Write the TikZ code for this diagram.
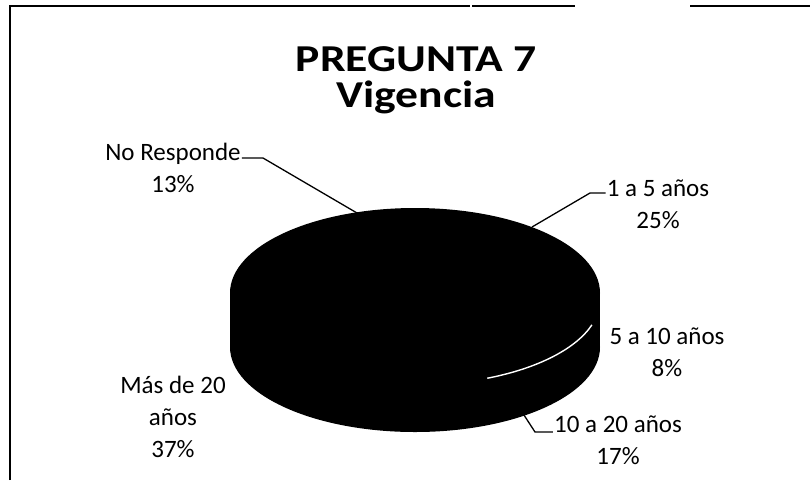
\documentclass[tikz,border=0pt]{standalone}
\usepackage{fontspec}
\usepackage{graphicx}
\setmainfont{Carlito}
\usetikzlibrary{positioning, calc}

\tikzset{
  etiqueta/.style={align=center, inner sep=1pt, font=\fontsize{25}{32}\selectfont},
  titulo/.style={anchor=base, inner sep=0pt, font=\bfseries\fontsize{38}{38}\selectfont},
  guia/.style={draw=black, line width=1.3pt},
  marco/.style={draw=black, line width=1.2pt}
}
\newcommand{\ancho}[1]{\scalebox{1.2}[1]{#1}}

\begin{document}
\begin{tikzpicture}[x=1pt, y=-1pt]
    \useasboundingbox (0,0) rectangle (810,480);

    % marco escaneado
    \draw[marco] (10,480) -- (10,6) -- (470,6);
    \draw[marco] (472,6) -- (575,6);
    \draw[marco] (690,6) -- (810,6);

    % titulo
    \node[titulo] (tit) at (416,71) {\ancho{PREGUNTA 7}};
    \node[titulo] (vig) at (416,107) {\ancho{Vigencia}};

    % torta 3D (todo negro)
    \fill[black] (230,293) rectangle (600,347);
    \fill[black] (415,347) ellipse [x radius=185, y radius=85];
    \fill[black] (415,293) ellipse [x radius=185, y radius=85];
    % borde blanco del sector
    \draw[white, line width=1.4pt] (415,300) ++(17:185 and 85) arc [start angle=17, end angle=67, x radius=185, y radius=85];

    % puntos de la torta
    \coordinate (pNR) at (357,213);
    \coordinate (kNR) at (263,158);
    \coordinate (pUno) at (532,227);
    \coordinate (kUno) at (590,193);
    \coordinate (pDiez) at (522,412);
    \coordinate (kDiez) at (535,432);

    % etiquetas
    \node[etiqueta] (nr) at (173,168) {No Responde\\13\%};
    \node[etiqueta] (uno) at (658,204) {1 a 5 años\\25\%};
    \node[etiqueta] (cinco) at (667,352) {5 a 10 años\\8\%};
    \node[etiqueta] (diez) at (618,440) {10 a 20 años\\17\%};
    \node[etiqueta] (mas) at (173,417) {Más de 20\\años\\37\%};

    % lineas guia
    \draw[guia] (pNR) -- (kNR) -- (kNR -| nr.east);
    \draw[guia] (pUno) -- (kUno) -- (kUno -| uno.west);
    \draw[guia] (pDiez) -- (kDiez) -- (kDiez -| diez.west);
\end{tikzpicture}
\end{document}
